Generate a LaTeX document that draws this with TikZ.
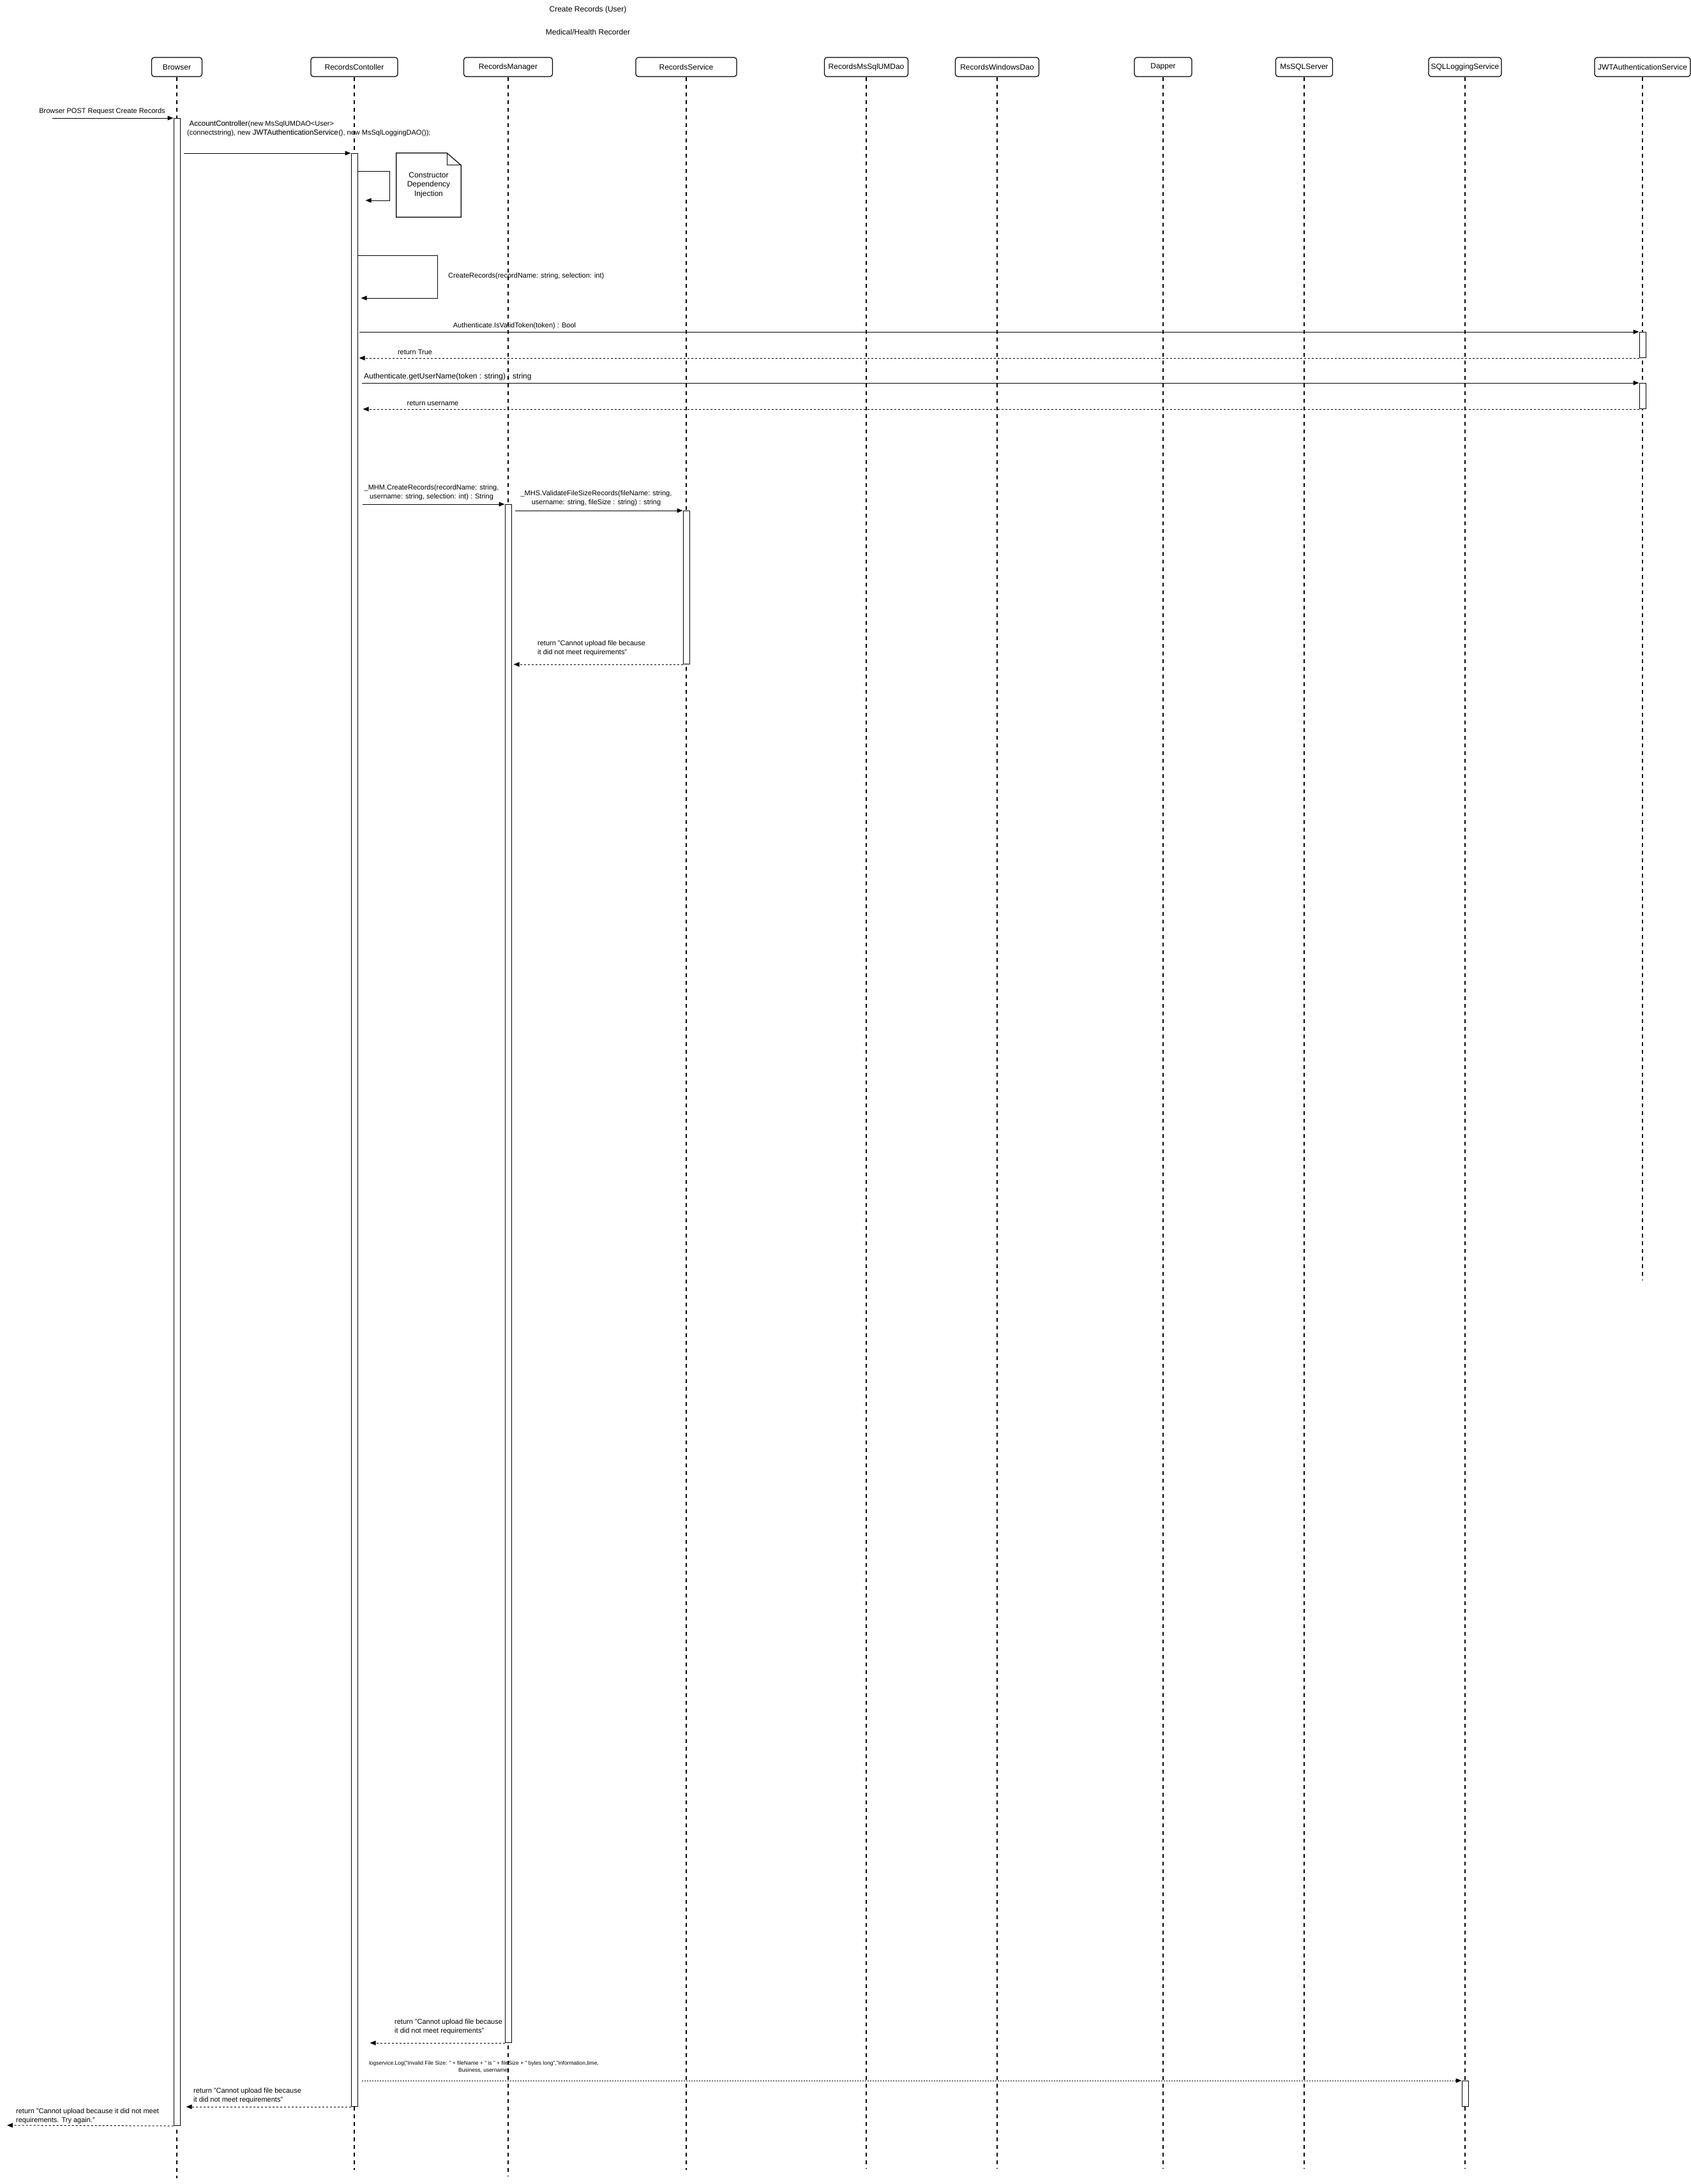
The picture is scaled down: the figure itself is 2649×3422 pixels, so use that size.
\documentclass[tikz,border=0pt]{standalone}
\usepackage{fontspec}
\setmainfont{Liberation Sans}
\usetikzlibrary{arrows.meta}
\tikzset{
    head/.style={draw, rounded corners=4pt, line width=1.2pt, minimum height=30pt, inner sep=0pt, font=\fontsize{12}{14}\selectfont}, % lifeline header
    life/.style={line width=2pt, dash pattern=on 6pt off 6pt}, % dashed lifeline
    act/.style={draw, fill=white, line width=1pt, minimum width=10pt, inner sep=0pt, anchor=north}, % activation bar
    call/.style={line width=1pt, -{Triangle[length=9pt, width=7pt]}}, % message
    reply/.style={call, dash pattern=on 3pt off 3pt}, % return message
    lbl/.style={inner sep=0pt, align=left, font=\fontsize{11}{14}\selectfont}, % message text
    tiny lbl/.style={inner sep=0pt, align=center, font=\fontsize{8.5}{11}\selectfont} % log text
}
\newcommand{\bigpart}[1]{{\fontsize{11.5}{14}\selectfont\setlength{\fboxsep}{0.5pt}\colorbox{black!5}{#1}}}

\begin{document}
\begin{tikzpicture}[x=1pt, y=-1pt]
    \path[use as bounding box, fill=white] (0,0) rectangle (2649,3422);

    \node[font=\fontsize{12}{14}\selectfont] (title) at (921,15) {Create Records (User)};
    \node[font=\fontsize{12}{14}\selectfont] (subtitle) at (921,50) {Medical/Health Recorder};

    % lifelines
    \foreach \n/\x/\w/\e/\t in {brw/277/79pt/3413/Browser, ctl/555/136pt/3400/RecordsContoller, mgr/796/139pt/3410/RecordsManager, svc/1075/158pt/3400/RecordsService, dao/1357/131pt/3398/RecordsMsSqlUMDao, win/1562/131pt/3398/RecordsWindowsDao, dap/1822/90pt/3398/Dapper, sql/2043/89pt/3398/MsSQLServer, log/2295/114pt/3398/SQLLoggingService, jwt/2573/150pt/2005/JWTAuthenticationService} {
        \node[head, minimum width=\w] (h\n) at (\x,105) {\t};
        \coordinate (e\n) at (\x,\e);
        \draw[life] (h\n) -- (e\n);
    }

    % activation bars
    \node[act, minimum height=3145pt] (aBrw) at (277,185) {};
    \node[act, minimum height=3060pt] (aCtl) at (555,240) {};
    \node[act, minimum height=2410pt] (aMgr) at (796,790) {};
    \node[act, minimum height=240pt] (aSvc) at (1075,800) {};
    \node[act, minimum height=40pt] (aJwtA) at (2573,520) {};
    \node[act, minimum height=40pt] (aJwtB) at (2573,600) {};
    \node[act, minimum height=40pt] (aLog) at (2295,3260) {};

    % request from outside
    \coordinate (src) at (82,185);
    \draw[call] (src) -- (aBrw.north west);
    \node[lbl] (m1) at (160,175) {Browser POST Request Create Records};

    \draw[call, shorten <=5pt] (aBrw.east |- aCtl.north) -- (aCtl.north west);
    \node[lbl, anchor=west] (m2) at (293,201) {\hspace{3pt}\bigpart{AccountController}(new MsSqlUMDAO<User>\\(connectstring), new \bigpart{JWTAuthenticationService}(), new MsSqlLoggingDAO());};

    % constructor injection
    \draw[call] ([yshift=-28pt]aCtl.north east) -- ++(50,0) |- ([xshift=12pt, yshift=-74pt]aCtl.north east);
    \node[lbl, align=center, font=\fontsize{12}{14.5}\selectfont, minimum width=101pt, minimum height=100pt] (cdi) at (671.5,290) {Constructor\\Dependency\\Injection};
    \draw[line width=1.2pt] (cdi.north west) -- ([xshift=-22pt]cdi.north east) -- ([yshift=-19pt]cdi.north east) -- (cdi.south east) -- (cdi.south west) -- cycle;
    \draw[line width=1.2pt] ([xshift=-22pt]cdi.north east) |- ([yshift=-19pt]cdi.north east);

    \draw[call] ([yshift=-160pt]aCtl.north east) -- ++(125,0) |- ([xshift=5pt, yshift=-227pt]aCtl.north east);
    \node[lbl, anchor=west] (m4) at (702,433) {CreateRecords(recordName: string, selection: int)};

    % authentication
    \draw[call, shorten <=2pt] (aCtl.east |- aJwtA.north) -- (aJwtA.north west);
    \node[lbl] (m5) at (806,511) {Authenticate.IsValidToken(token) : Bool};
    \draw[reply, shorten >=2pt] (aJwtA.south west) -- (aCtl.east |- aJwtA.south);
    \node[lbl] (m6) at (650,552) {return True};
    \draw[call, shorten <=6pt] (aCtl.east |- aJwtB.north) -- (aJwtB.north west);
    \node[lbl, anchor=west, font=\fontsize{12}{14}\selectfont] (m7) at (570,590) {Authenticate.getUserName(token : string) : string};
    \draw[reply, shorten >=8pt] (aJwtB.south west) -- (aCtl.east |- aJwtB.south);
    \node[lbl] (m8) at (678,632) {return username};

    % manager and service
    \draw[call, shorten <=7pt] (aCtl.east |- aMgr.north) -- (aMgr.north west);
    \node[lbl, align=center] (m9) at (676,772) {\_MHM.CreateRecords(recordName: string,\\username: string, selection: int) : String};
    \draw[call, shorten <=5pt] (aMgr.east |- aSvc.north) -- (aSvc.north west);
    \node[lbl, align=center] (m10) at (934,781) {\_MHS.ValidateFileSizeRecords(fileName: string,\\username: string, fileSize : string) : string};
    \draw[reply, shorten >=3pt] (aSvc.south west) -- (aMgr.east |- aSvc.south);
    \node[lbl, anchor=west] (m11) at (842,1016) {return "Cannot upload file because\\it did not meet requirements"};

    % returns and logging
    \draw[reply, shorten >=19pt] (aMgr.south west) -- (aCtl.east |- aMgr.south);
    \node[lbl, anchor=west] (m12) at (618,3176) {return "Cannot upload file because\\it did not meet requirements"};
    \draw[reply, shorten <=6pt, dash pattern=on 2pt off 2pt] (aCtl.east |- aLog.north) -- (aLog.north west);
    \node[tiny lbl] (m13) at (758,3238.5) {logservice.Log("Invalid File Size: " + fileName + " is " + fileSize + " bytes long","Information,time,\\Business, username)};
    \draw[reply, shorten >=9pt] (aCtl.south west) -- (aBrw.east |- aCtl.south);
    \node[lbl, anchor=west] (m14) at (303,3284) {return "Cannot upload file because\\it did not meet requirements"};
    \coordinate (dst) at (11,3330);
    \draw[reply] (aBrw.south west) -- (dst);
    \node[lbl, anchor=west] (m15) at (25,3316) {return "Cannot upload because it did not meet\\requirements. Try again."};
\end{tikzpicture}
\end{document}
